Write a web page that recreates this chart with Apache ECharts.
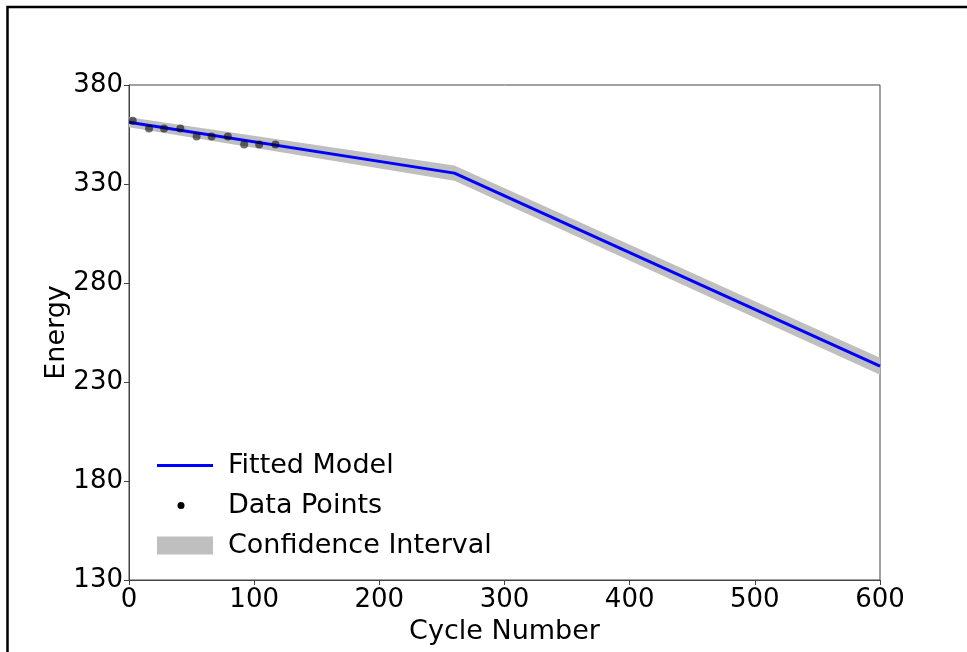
<!DOCTYPE html>
<html>
<head>
<meta charset="utf-8">
<script src="https://cdn.jsdelivr.net/npm/echarts@6/dist/echarts.min.js"></script>
<style>
  html, body { margin: 0; padding: 0; background: #fff; overflow: hidden; }
  #chart { width: 967px; height: 652px; overflow: hidden; }
</style>
</head>
<body>
<div id="chart"></div>
<script>
// fitted piecewise model, read at its knots
const fitX = [0, 260, 600];
const fitY = [361.2, 335.5, 238];
// confidence band edges at the same knots
const ciLower = [358.7, 331.7, 233.7];
const ciUpper = [363.7, 339.3, 242.3];
// observed points
const pointX = [3, 16, 28, 41, 54, 66, 79, 92, 104, 117];
const pointY = [362, 358, 358, 358, 354, 354, 354, 350, 350, 350];
// tick labels
const yTicks = [130, 180, 230, 280, 330, 380];

const font = 'DejaVu Sans';
const chart = echarts.init(document.getElementById('chart'));

const bandData = fitX.map((x, i) => [x, ciLower[i], ciUpper[i]]);
const legendText = { fontFamily: font, fontSize: 27, color: '#000' };

chart.setOption({
  animation: false,
  backgroundColor: '#fff',
  textStyle: { fontFamily: font },
  graphic: [
    {
      type: 'polyline',
      shape: { points: [[7.5, 660], [7.5, 7], [967, 7]] },
      style: { fill: 'none', stroke: '#000', lineWidth: 2.5 },
      silent: true
    }
  ],
  grid: {
    left: 129, right: 87, top: 85, bottom: 72,
    show: true, borderColor: '#444', borderWidth: 1, backgroundColor: 'transparent'
  },
  legend: [
    {
      left: 152, top: 447, orient: 'vertical',
      itemWidth: 56, itemHeight: 3,
      data: [{ name: 'Fitted Model', icon: 'rect' }],
      textStyle: Object.assign({ padding: [0, 0, 0, 10] }, legendText)
    },
    {
      left: 172.5, top: 487, orient: 'vertical',
      itemWidth: 7, itemHeight: 7,
      data: [{ name: 'Data Points', icon: 'circle', itemStyle: { color: '#000', opacity: 1 } }],
      textStyle: Object.assign({ padding: [0, 0, 0, 38.5] }, legendText)
    },
    {
      left: 152, top: 527, orient: 'vertical',
      itemWidth: 56, itemHeight: 18,
      data: [{ name: 'Confidence Interval', icon: 'rect', itemStyle: { color: '#bfbfbf' } }],
      textStyle: Object.assign({ padding: [0, 0, 0, 10] }, legendText)
    }
  ],
  xAxis: {
    type: 'value', min: 0, max: 600, interval: 100,
    name: 'Cycle Number', nameLocation: 'middle', nameGap: 38, nameMoveOverlap: false,
    nameTextStyle: { fontFamily: font, fontSize: 27, color: '#000' },
    axisLine: { show: true, lineStyle: { color: '#444', width: 1 } },
    axisTick: { show: true, length: 5, lineStyle: { color: '#444' } },
    axisLabel: { fontFamily: font, fontSize: 26, color: '#000', margin: 7 },
    splitLine: { show: false }
  },
  yAxis: {
    type: 'value', min: 130, max: 380,
    name: 'Energy', nameLocation: 'middle', nameGap: 59, nameMoveOverlap: false,
    nameTextStyle: { fontFamily: font, fontSize: 27, color: '#000' },
    axisLine: { show: true, lineStyle: { color: '#444', width: 1 } },
    axisTick: { show: true, length: 5, lineStyle: { color: '#444' }, customValues: yTicks },
    axisLabel: { fontFamily: font, fontSize: 26, color: '#000', margin: 6, customValues: yTicks },
    splitLine: { show: false }
  },
  series: [
    {
      name: 'Confidence Interval',
      type: 'custom',
      itemStyle: { color: '#bfbfbf' },
      data: [0],
      z: 1,
      renderItem: function (params, api) {
        const pts = [];
        bandData.forEach(d => pts.push(api.coord([d[0], d[2]])));
        for (let i = bandData.length - 1; i >= 0; i--) {
          pts.push(api.coord([bandData[i][0], bandData[i][1]]));
        }
        return {
          type: 'polygon',
          shape: { points: pts },
          style: { fill: '#bfbfbf' }
        };
      }
    },
    {
      name: 'Fitted Model',
      type: 'line',
      data: fitX.map((x, i) => [x, fitY[i]]),
      showSymbol: false,
      color: '#0000ff',
      lineStyle: { color: '#0000ff', width: 3 },
      z: 3
    },
    {
      name: 'Data Points',
      type: 'scatter',
      data: pointX.map((x, i) => [x, pointY[i]]),
      symbolSize: 8,
      itemStyle: { color: 'rgba(0,0,0,0.7)' },
      z: 4
    }
  ]
});
</script>
</body>
</html>
